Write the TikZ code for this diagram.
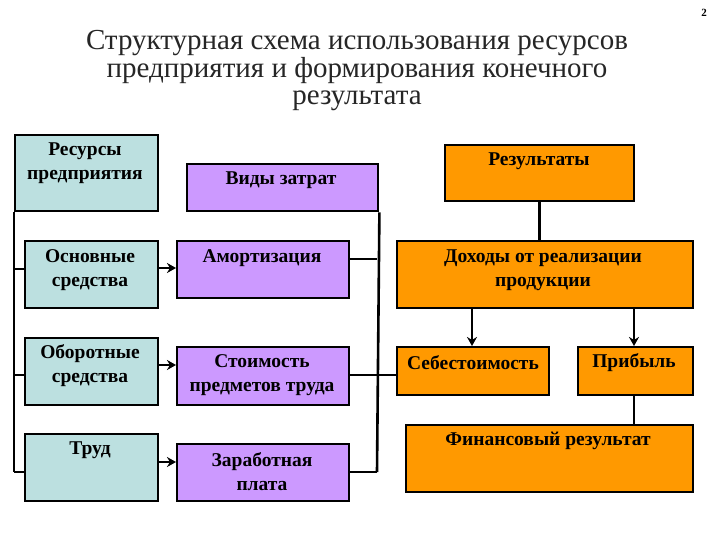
\documentclass[tikz,border=0pt]{standalone}
\usepackage{fontspec}
\setmainfont{Liberation Serif}
\usetikzlibrary{arrows.meta}
\begin{document}
\begin{tikzpicture}[x=1pt,y=-1pt,
  box/.style={draw,line width=2.4pt,anchor=north west,inner sep=0pt},
  teal/.style={box,fill=tealc},
  lav/.style={box,fill=lavc},
  org/.style={box,fill=orgc},
  txt/.style={font=\bfseries\fontsize{19.5}{24}\selectfont,align=center,inner sep=0pt},
  ln/.style={line width=2.6pt},
  arr/.style={ln,-{Stealth[length=9pt,width=10pt]}}]
\definecolor{tealc}{HTML}{BCE0E0}
\definecolor{lavc}{HTML}{CC99FF}
\definecolor{orgc}{HTML}{FF9900}
\useasboundingbox (0,0) rectangle (720,540);
\node[font=\bfseries\fontsize{11}{12}\selectfont] (pg) at (704,13) {2};
\node[font=\fontsize{29}{27.5}\selectfont,align=center,text=black!85] (title) at (357,71)
  {Структурная схема использования ресурсов\\предприятия и формирования конечного\\результата};
% boxes
\node[teal,minimum width=143,minimum height=76] (res) at (14,134) {};
\node[lav,minimum width=191,minimum height=47] (vid) at (186,163) {};
\node[teal,minimum width=133,minimum height=67] (os) at (24,240) {};
\node[lav,minimum width=172,minimum height=57] (am) at (176,240) {};
\node[teal,minimum width=133,minimum height=67] (ob) at (24,337) {};
\node[lav,minimum width=172,minimum height=58] (st) at (176,346) {};
\node[teal,minimum width=133,minimum height=67] (tr) at (24,433) {};
\node[lav,minimum width=172,minimum height=57] (zp) at (176,443) {};
\node[org,minimum width=189,minimum height=56] (rz) at (444,144) {};
\node[org,minimum width=296,minimum height=67] (dh) at (396,240) {};
\node[org,minimum width=152,minimum height=48] (sb) at (396,346) {};
\node[org,minimum width=115,minimum height=48] (pr) at (577,346) {};
\node[org,minimum width=287,minimum height=67] (fr) at (405,424) {};
% texts
\node[txt] (t1) at (85,163) {Ресурсы\\предприятия};
\node[txt] (t2) at (281,180) {Виды затрат};
\node[txt] (t3) at (90,270) {Основные\\средства};
\node[txt] (t4) at (262,258) {Амортизация};
\node[txt] (t5) at (90,366) {Оборотные\\средства};
\node[txt] (t6) at (262,375) {Стоимость\\предметов труда};
\node[txt] (t7) at (90,450) {Труд};
\node[txt] (t8) at (262,472) {Заработная\\плата};
\node[txt] (t9) at (539,161) {Результаты};
\node[txt] (t10) at (543,270) {Доходы от реализации\\продукции};
\node[txt] (t11) at (473,363) {Себестоимость};
\node[txt] (t12) at (634,363) {Прибыль};
\node[txt] (t13) at (548,441) {Финансовый результат};
% left bus
\coordinate (lb) at (14,472);
\draw[ln] (res.south west) -- (lb);
\draw[ln] (14,269) -- (os.west |- 0,269);
\draw[ln] (14,375) -- (ob.west |- 0,375);
\draw[ln] (lb) -- (tr.west |- lb);
% arrows
\draw[arr] (os.east |- 0,268) -- (am.west |- 0,268);
\draw[arr] (ob.east |- 0,365) -- (st.west |- 0,365);
\draw[arr] (tr.east |- 0,462) -- (zp.west |- 0,462);
% right bus
\coordinate (rb) at (377,472);
\draw[ln] (vid.south east) -- (rb);
\draw[ln] (am.east |- 0,259) -- (377,259);
\draw[ln] (st.east |- 0,375) -- (sb.west |- 0,375);
\draw[ln] (zp.east |- rb) -- (rb);
% results
\draw[ln] (rz.south) -- (dh.north -| rz.south);
\draw[arr] (dh.south -| 472,0) -- (sb.north -| 472,0);
\draw[arr] (dh.south -| 634,0) -- (pr.north -| 634,0);
\draw[ln] (pr.south -| 634,0) -- (fr.north -| 634,0);
\end{tikzpicture}
\end{document}
